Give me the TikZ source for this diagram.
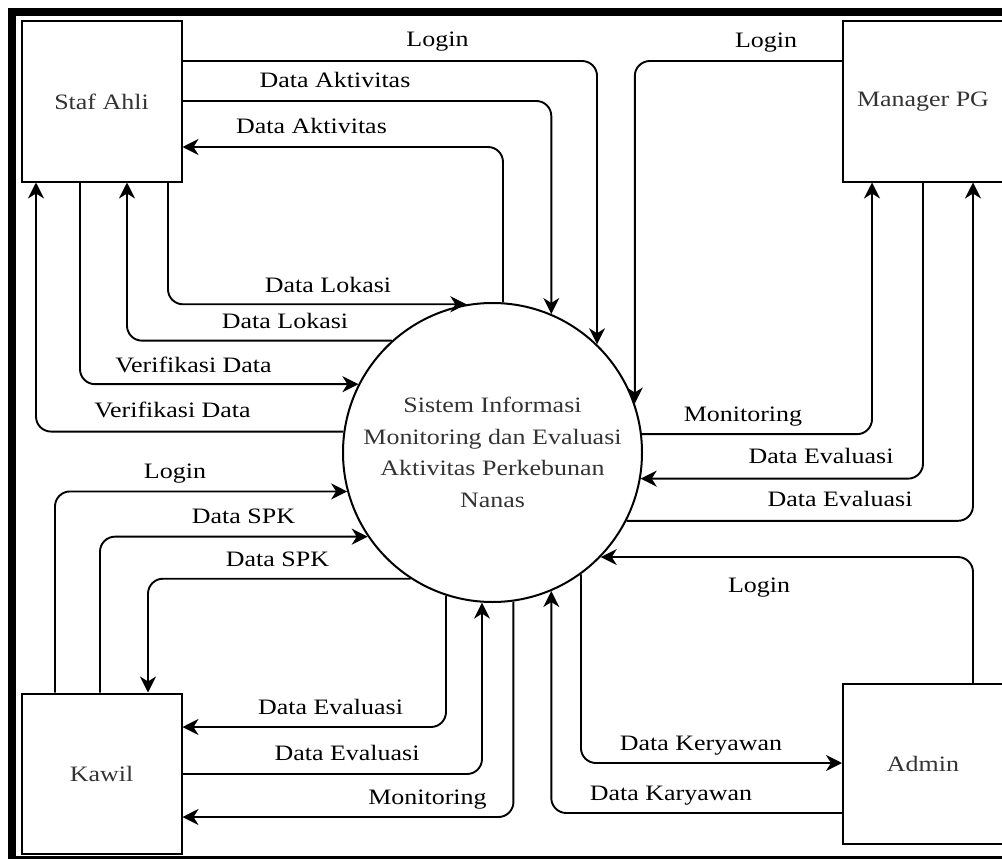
\documentclass[tikz,border=0pt]{standalone}
\usepackage{fontspec}
\setmainfont{Liberation Serif}[FakeStretch=1.18]
\usetikzlibrary{arrows.meta}
\begin{document}
\begin{tikzpicture}[x=1pt,y=-1pt,
  every node/.append style={font=\fontsize{22}{31.6}\selectfont},
  entity/.style={draw, line width=2pt, minimum width=160pt, minimum height=160pt, inner sep=0pt, text=black!80},
  process/.style={draw, circle, line width=2pt, minimum size=299pt, inner sep=0pt, align=center, text=black!80},
  flow/.style={line width=1.9pt, rounded corners=15pt, -{Stealth[length=16pt,width=16pt,inset=5pt]}},
  lbl/.style={anchor=base, inner sep=0pt, text=black}]
\useasboundingbox (0,0) rectangle (1002,859);
\clip (0,0) rectangle (1002,859);
% outer frame
\draw[line width=8pt] (12,12) rectangle (1020,860);

% external entities and the process
\node[entity] (staf)  at (101.5,101.5) {Staf Ahli};
\node[entity] (kawil) at (101.5,773.5) {Kawil};
\node[entity] (mgr)   at (923,101.5)   {Manager PG};
\node[entity] (admin) at (923,764)     {Admin};
\node[process] (sys) at (492.5,452.5) {Sistem Informasi\\Monitoring dan Evaluasi\\Aktivitas Perkebunan\\Nanas};

% Staf Ahli flows
\draw[flow] (staf.east |- 0,61) -| (sys.46.9);
\node[lbl] (l1) at (437.5,47) {Login};
\draw[flow] (staf.east |- 0,101) -| (sys.67.9);
\node[lbl] (l2) at (335,87.7) {Data Aktivitas};
\draw[flow] (sys.86) |- (staf.east |- 0,147);
\node[lbl] (l3) at (311.5,133) {Data Aktivitas};
\draw[flow] (staf.south -| 168,0) |- (sys.100.6);
\node[lbl] (l4) at (328,292) {Data Lokasi};
\draw[flow] (sys.132) -| (staf.south -| 127,0);
\node[lbl] (l5) at (285,328) {Data Lokasi};
\draw[flow] (staf.south -| 80,0) |- (sys.153.7);
\node[lbl] (l6) at (193.5,372) {Verifikasi Data};
\draw[flow] (sys.172.1) -| (staf.south -| 36,0);
\node[lbl] (l7) at (172.5,417) {Verifikasi Data};

% Manager PG flows
\draw[flow] (mgr.west |- 0,61) -| (sys.19.4);
\node[lbl] (l8) at (766,48) {Login};
\draw[flow] (sys.7.5) -| (mgr.south -| 872,0);
\node[lbl] (l9) at (743,421) {Monitoring};
\draw[flow] (mgr.south -| 923,0) |- (sys.350.6);
\node[lbl] (l10) at (821,463) {Data Evaluasi};
\draw[flow] (sys.333.7) -| (mgr.south -| 973,0);
\node[lbl] (l11) at (840,506) {Data Evaluasi};

% Admin flows
\draw[flow] (admin.north -| 973,0) |- (sys.316.9);
\node[lbl] (l12) at (759,592) {Login};
\draw[flow] (sys.306.6) |- (admin.west |- 0,763);
\node[lbl] (l13) at (701,750) {Data Keryawan};
\draw[flow] (admin.west |- 0,813) -| (sys.293.4);
\node[lbl] (l14) at (671,800) {Data Karyawan};

% Kawil flows
\draw[flow] (kawil.north -| 55,0) |- (sys.195.25);
\node[lbl] (l15) at (175,478) {Login};
\draw[flow] (kawil.north -| 100,0) |- (sys.214.75);
\node[lbl] (l16) at (243.5,523) {Data SPK};
\draw[flow] (sys.237.5) -| (kawil.north -| 148,0);
\node[lbl] (l17) at (277.5,566) {Data SPK};
\draw[flow] (sys.252.7) |- (kawil.east |- 0,727);
\node[lbl] (l18) at (330.5,714) {Data Evaluasi};
\draw[flow] (kawil.east |- 0,774) -| (sys.266);
\node[lbl] (l19) at (347,760) {Data Evaluasi};
\draw[flow] (sys.278.6) |- (kawil.east |- 0,817);
\node[lbl] (l20) at (427.5,804) {Monitoring};
\end{tikzpicture}
\end{document}
